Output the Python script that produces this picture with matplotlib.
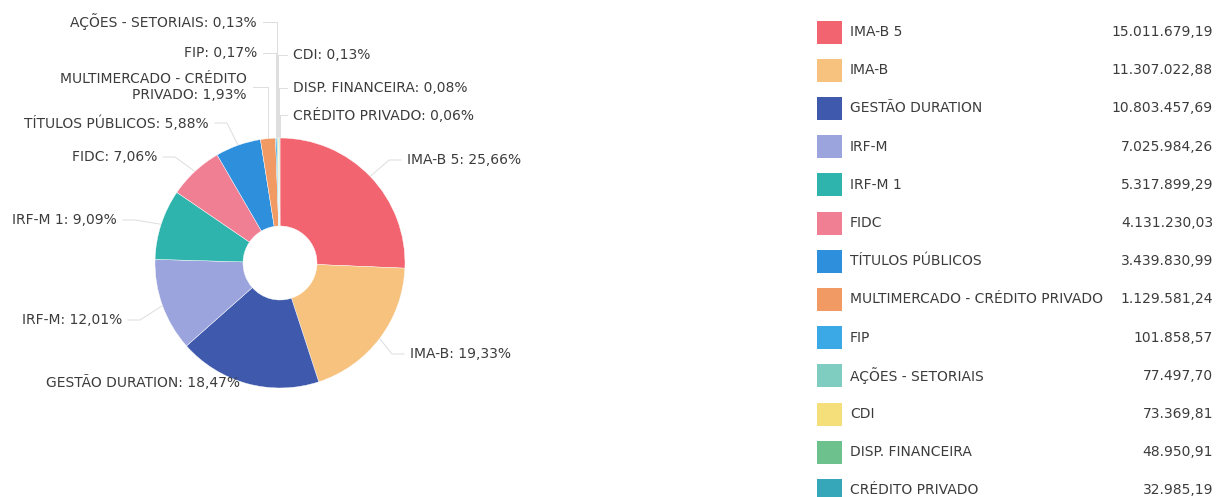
import numpy as np
import matplotlib
matplotlib.use("Agg")
import matplotlib.pyplot as plt
from matplotlib.patches import Rectangle

# data
categorias = ['IMA-B 5', 'IMA-B', 'GESTÃO DURATION', 'IRF-M', 'IRF-M 1', 'FIDC',
              'TÍTULOS PÚBLICOS', 'MULTIMERCADO - CRÉDITO PRIVADO', 'FIP',
              'AÇÕES - SETORIAIS', 'CDI', 'DISP. FINANCEIRA', 'CRÉDITO PRIVADO']
valores = [15011679.19, 11307022.88, 10803457.69, 7025984.26, 5317899.29, 4131230.03,
           3439830.99, 1129581.24, 101858.57, 77497.70, 73369.81, 48950.91, 32985.19]
cores = ['#f2646f', '#f6c27d', '#3f5aad', '#9ba4dc', '#2fb4ad', '#f17f93',
         '#2e8fdc', '#f29a63', '#3aa9e6', '#7fcdc1', '#f4df7b', '#6cc18d', '#36a6b9']
# label text for the pie (line break for the long one)
rotulos_pizza = ['IMA-B 5', 'IMA-B', 'GESTÃO DURATION', 'IRF-M', 'IRF-M 1', 'FIDC',
                 'TÍTULOS PÚBLICOS', 'MULTIMERCADO - CRÉDITO\nPRIVADO', 'FIP',
                 'AÇÕES - SETORIAIS', 'CDI', 'DISP. FINANCEIRA', 'CRÉDITO PRIVADO']

# label layout in pixels from top-left: (x, y, ha)
pos_rotulos = [(407, 160, 'left'), (410, 354, 'left'), (240, 383, 'right'),
               (122, 320, 'right'), (117, 220, 'right'), (157, 157, 'right'),
               (209, 123, 'right'), (247, 87, 'right'), (257, 53, 'right'),
               (257, 22, 'right'), (293, 55, 'left'), (293, 88, 'left'),
               (293, 115, 'left')]

W, H = 1224, 497
fig = plt.figure(figsize=(W / 100, H / 100), dpi=100)
ax = fig.add_axes([0, 0, 1, 1])

cx, cy, R, r_in = 280, H - 263, 125, 37
wedges, _ = ax.pie(valores, colors=cores, startangle=90, counterclock=False,
                   center=(cx, cy), radius=R,
                   wedgeprops=dict(width=R - r_in, edgecolor='white', linewidth=0.3))
ax.set_xlim(0, W)
ax.set_ylim(0, H)
ax.set_aspect('equal')
ax.axis('off')

cor_txt = '#3c3c3c'
fs = 10
total = sum(valores)


def fmt_pct(v):
    return f"{100 * v / total:.2f}".replace('.', ',') + '%'


def fmt_brl(v):
    s = f"{v:,.2f}"
    return s.replace(',', 'X').replace('.', ',').replace('X', '.')


for w, nome, v, (lx, ly, ha) in zip(wedges, rotulos_pizza, valores, pos_rotulos):
    ang = np.deg2rad((w.theta1 + w.theta2) / 2)
    ex, ey = cx + R * np.cos(ang), cy + R * np.sin(ang)
    ty = H - ly
    sgn = 1 if ha == 'left' else -1
    if abs(np.cos(ang)) < 0.1:
        xs = [ex, ex, lx - sgn * 6]
    else:
        xs = [ex, lx - sgn * 18, lx - sgn * 6]
    ys = [ey, ty, ty]
    ax.plot(xs, ys, color='#dddddd', lw=0.7, zorder=0)
    ax.text(lx, ty, f"{nome}: {fmt_pct(v)}", ha=ha, va='center', fontsize=fs,
            color=cor_txt, multialignment='right' if ha == 'right' else 'left')

# legend table
y0, dy = 32, 38.2
for i, (nome, v, c) in enumerate(zip(categorias, valores, cores)):
    yy = H - (y0 + i * dy)
    ax.add_patch(Rectangle((817, yy - 11.5), 25, 23, facecolor=c, edgecolor='none'))
    ax.text(850, yy, nome, ha='left', va='center', fontsize=fs, color=cor_txt)
    ax.text(1213, yy, fmt_brl(v), ha='right', va='center', fontsize=fs, color=cor_txt)

fig.savefig('out.png', dpi=100)
